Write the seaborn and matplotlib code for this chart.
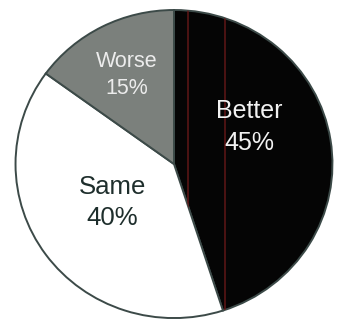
import matplotlib
matplotlib.use("Agg")
import matplotlib.pyplot as plt
import seaborn as sns

sns.set_theme(style="white")
plt.rcParams["font.family"] = ["Liberation Sans", "DejaVu Sans"]

# Survey answers and their shares (percent)
categories = ["Better", "Same", "Worse"]
shares = [45, 40, 15]
slice_colors = ["#050505", "#ffffff", "#7b807c"]
text_colors = ["#f2f2f2", "#1e2e2c", "#ececec"]
font_sizes = [18, 18.5, 15.5]
label_pos = [(0.476, 0.24), (-0.39, -0.25), (-0.30, 0.58)]

fig = plt.figure(figsize=(3.38, 3.25), dpi=100)
ax = fig.add_axes([0, 0, 1, 1])

wedges, _ = ax.pie(
    shares,
    colors=slice_colors,
    startangle=90,
    counterclock=False,
    wedgeprops=dict(edgecolor="#3c4a48", linewidth=1.4),
)

# faint dark-red streaks running through the dark slice
for xv in [0.088, 0.322]:
    ln = ax.axvline(xv, color="#641818", linewidth=1.1, alpha=0.95)
    ln.set_clip_path(wedges[0])

for cat, val, (x, y), tc, fs in zip(categories, shares, label_pos, text_colors, font_sizes):
    ax.text(x, y, f"{cat}\n{val}%", ha="center", va="center",
            color=tc, fontsize=fs, linespacing=1.38)

ax.set_aspect("auto")
ax.set_xlim(-1.098, 1.035)
ax.set_ylim(-1.045, 1.065)
ax.axis("off")

fig.savefig("out.png", dpi=100, facecolor="white")
